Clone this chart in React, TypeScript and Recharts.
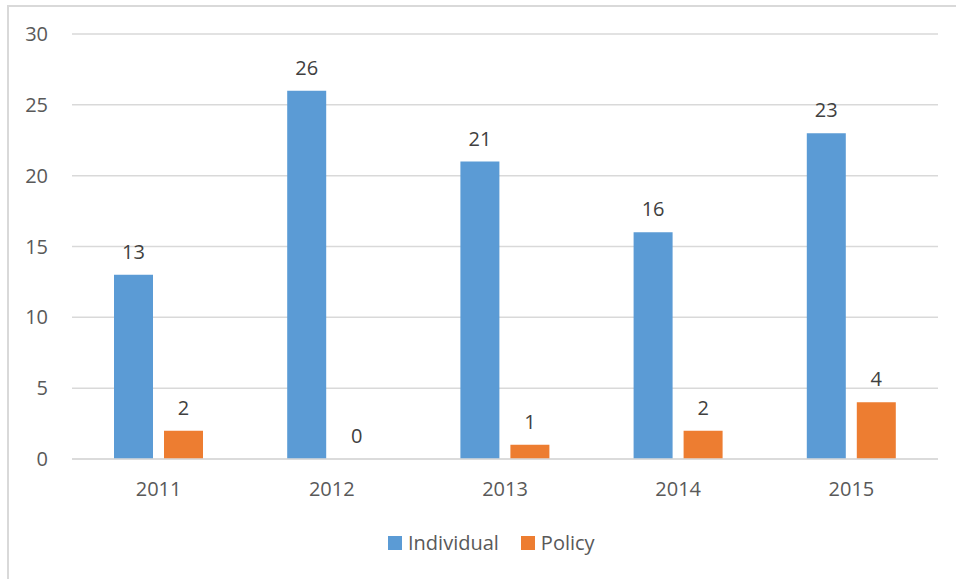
import React from "react";
import {
  BarChart,
  Bar,
  XAxis,
  YAxis,
  CartesianGrid,
  LabelList,
} from "recharts";

const years = ["2011", "2012", "2013", "2014", "2015"];
const individual = [13, 26, 21, 16, 23];
const policy = [2, 0, 1, 2, 4];
const yTicks = [0, 5, 10, 15, 20, 25, 30];

const BLUE = "#5B9BD5";
const ORANGE = "#ED7D31";
const FONT = "'Open Sans', sans-serif";

const data = years.map((y, i) => ({
  year: y,
  Individual: individual[i],
  Policy: policy[i],
}));

// zero-height bars get no label otherwise; keep them practically invisible
const tinyForZero = (value: any) => (value === 0 ? 0.01 : 0);

function LegendItem({ color, label }: { color: string; label: string }) {
  return (
    <div style={{ display: "flex", alignItems: "center", marginRight: 22 }}>
      <div style={{ width: 14, height: 14, background: color, marginRight: 6 }} />
      <span>{label}</span>
    </div>
  );
}

export default function App() {
  return (
    <div
      style={{
        position: "fixed",
        left: 0,
        top: 0,
        width: 956,
        height: 579,
        overflow: "hidden",
        background: "#fff",
        fontFamily: FONT,
      }}
    >
      <div
        style={{
          position: "absolute",
          left: 7,
          top: 5,
          width: 1200,
          height: 800,
          borderLeft: "2px solid #D9D9D9",
          borderTop: "2px solid #D9D9D9",
        }}
      />
      <div style={{ position: "absolute", left: 0, top: 0 }}>
        <BarChart
          width={956}
          height={579}
          data={data}
          margin={{ top: 34, right: 18, left: 0, bottom: 90 }}
          barGap={11}
          barSize={39}
        >
          <CartesianGrid vertical={false} stroke="#D9D9D9" strokeWidth={1.5} />
          <XAxis
            dataKey="year"
            height={30}
            tickLine={false}
            axisLine={{ stroke: "#D9D9D9", strokeWidth: 1.5 }}
            tickMargin={17}
            tick={{ fill: "#595959", fontSize: 20, fontFamily: FONT }}
          />
          <YAxis
            width={72}
            domain={[0, 30]}
            ticks={yTicks}
            tickLine={false}
            axisLine={false}
            tickMargin={18}
            tick={{ fill: "#595959", fontSize: 20, fontFamily: FONT }}
          />
          <Bar dataKey="Individual" fill={BLUE} isAnimationActive={false}>
            <LabelList
              dataKey="Individual"
              position="top"
              offset={16}
              fill="#404040"
              fontSize={20}
              fontFamily={FONT}
            />
          </Bar>
          <Bar
            dataKey="Policy"
            fill={ORANGE}
            minPointSize={tinyForZero}
            isAnimationActive={false}
          >
            <LabelList
              dataKey="Policy"
              position="top"
              offset={16}
              fill="#404040"
              fontSize={20}
              fontFamily={FONT}
            />
          </Bar>
        </BarChart>
      </div>
      <div
        style={{
          position: "absolute",
          left: 388,
          top: 530,
          display: "flex",
          fontSize: 20,
          color: "#595959",
          lineHeight: "26px",
        }}
      >
        <LegendItem color={BLUE} label="Individual" />
        <LegendItem color={ORANGE} label="Policy" />
      </div>
    </div>
  );
}
